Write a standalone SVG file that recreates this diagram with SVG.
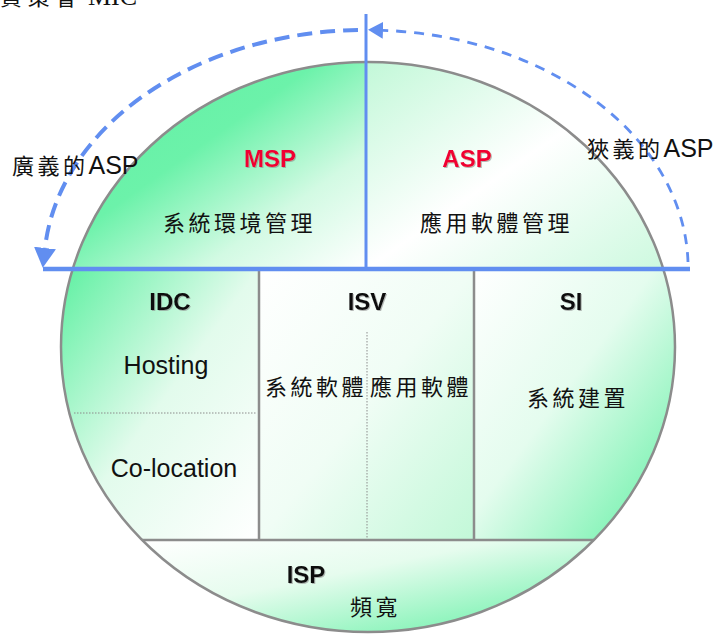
<svg xmlns="http://www.w3.org/2000/svg" width="714" height="635" viewBox="0 0 714 635">
  <style>
    .cjk { font-family: "Noto Sans CJK TC", "Noto Sans CJK SC", sans-serif; font-size: 22px; letter-spacing: 3.5px; fill: #111; }
    .lat { font-family: "Liberation Sans", Arial, sans-serif; font-size: 25px; fill: #111; }
    .head { font-family: "Liberation Sans", Arial, sans-serif; font-size: 24px; font-weight: bold; fill: #111; text-anchor: middle; filter: url(#shade); }
    .red { fill: #f00033; }
    .edge { fill: none; stroke: #8c8c8c; stroke-width: 2.5; }
    .dot { fill: none; stroke: #8c8c8c; stroke-width: 1; stroke-dasharray: 1.5 1.5; }
    .axis { fill: none; stroke: #618ef0; }
    .sweep { fill: none; stroke: #618ef0; }
  </style>
  <defs>
    <filter id="shade" x="-10%" y="-10%" width="130%" height="140%">
      <feDropShadow dx="1" dy="1" stdDeviation="0.4" flood-color="#888" flood-opacity="0.6"/>
    </filter>
    <linearGradient id="gMSP" x1="0" y1="0" x2="1" y2="1">
      <stop offset="0" stop-color="#5ff0a2"/>
      <stop offset="0.42" stop-color="#6cf2aa"/>
      <stop offset="0.72" stop-color="#d2fae3"/>
      <stop offset="1" stop-color="#ffffff"/>
    </linearGradient>
    <linearGradient id="gASP" x1="0" y1="0" x2="1" y2="1">
      <stop offset="0" stop-color="#c2f8d8"/>
      <stop offset="0.5" stop-color="#ffffff"/>
      <stop offset="1" stop-color="#cdf9df"/>
    </linearGradient>
    <linearGradient id="gIDC" x1="0" y1="0" x2="1" y2="1">
      <stop offset="0" stop-color="#5ff0a2"/>
      <stop offset="0.5" stop-color="#e2fbec"/>
      <stop offset="1" stop-color="#ffffff"/>
    </linearGradient>
    <linearGradient id="gISV" x1="0" y1="0" x2="1" y2="1">
      <stop offset="0" stop-color="#ffffff"/>
      <stop offset="0.5" stop-color="#f0fdf5"/>
      <stop offset="1" stop-color="#c2f8d8"/>
    </linearGradient>
    <linearGradient id="gSI" x1="0" y1="0" x2="1" y2="1">
      <stop offset="0" stop-color="#ffffff"/>
      <stop offset="0.45" stop-color="#e4fcee"/>
      <stop offset="1" stop-color="#5ff0a2"/>
    </linearGradient>
    <linearGradient id="gISP" x1="0" y1="0" x2="1" y2="1">
      <stop offset="0" stop-color="#ffffff"/>
      <stop offset="0.4" stop-color="#e6fcee"/>
      <stop offset="1" stop-color="#5ff0a2"/>
    </linearGradient>
    <marker id="headL" markerUnits="userSpaceOnUse" markerWidth="22" markerHeight="24" refX="0" refY="12" orient="auto">
      <path d="M0,1 L20,12 L0,23 Z" fill="#618ef0"/>
    </marker>
    <marker id="headR" markerUnits="userSpaceOnUse" markerWidth="17" markerHeight="19" refX="0" refY="9.5" orient="auto">
      <path d="M0,1 L15,9.5 L0,18 Z" fill="#618ef0"/>
    </marker>
  </defs>

  <!-- caption running off the top edge -->
  <text x="0" y="5" font-family="'Noto Sans CJK TC', sans-serif" font-size="22" letter-spacing="5.5" fill="#111">資策會<tspan font-family="'Liberation Serif', serif" font-size="26" letter-spacing="0" x="88">MIC</tspan></text>

  <!-- upper half: service layers -->
  <g id="msp">
    <path d="M366,269 L72.7,269 A307 285 0 0 1 366,62 Z" fill="url(#gMSP)"/>
    <text class="head red" x="270" y="167">MSP</text>
    <text class="cjk" x="163" y="231">系統環境管理</text>
  </g>
  <g id="asp">
    <path d="M366,269 L366,62 A307 285 0 0 1 663.3,269 Z" fill="url(#gASP)"/>
    <text class="head red" x="467" y="167">ASP</text>
    <text class="cjk" x="420" y="231">應用軟體管理</text>
  </g>

  <!-- lower half: infrastructure and vendors -->
  <g id="idc">
    <path d="M259,269 L72.7,269 A307 285 0 0 0 142.1,540 L259,540 Z" fill="url(#gIDC)"/>
    <text class="head" x="170" y="310">IDC</text>
    <text class="lat" x="166" y="374" text-anchor="middle">Hosting</text>
    <text class="lat" x="174" y="477" text-anchor="middle">Co-location</text>
    <line class="dot" x1="74" y1="413" x2="257" y2="413"/>
  </g>
  <g id="isv">
    <rect x="259" y="269" width="215" height="271" fill="url(#gISV)"/>
    <text class="head" x="367" y="310">ISV</text>
    <text class="cjk" x="265" y="395">系統軟體</text>
    <text class="cjk" x="370" y="395">應用軟體</text>
    <line class="dot" x1="367" y1="332" x2="367" y2="540"/>
  </g>
  <g id="si">
    <path d="M474,269 L663.3,269 A307 285 0 0 1 593.9,540 L474,540 Z" fill="url(#gSI)"/>
    <text class="head" x="571" y="310">SI</text>
    <text class="cjk" x="527" y="406">系統建置</text>
  </g>
  <g id="isp">
    <path d="M142.1,540 L593.9,540 A307 285 0 0 1 142.1,540 Z" fill="url(#gISP)"/>
    <text class="head" x="306" y="583">ISP</text>
    <text class="cjk" x="350" y="615">頻寬</text>
  </g>

  <!-- outline and dividers -->
  <g id="frame">
    <ellipse class="edge" cx="368" cy="347" rx="307" ry="285" stroke-width="3.2"/>
    <line class="edge" x1="259" y1="269" x2="259" y2="540"/>
    <line class="edge" x1="474" y1="269" x2="474" y2="540"/>
    <line class="edge" x1="142" y1="540" x2="594" y2="540"/>
  </g>

  <!-- connectors: axes and scope arcs -->
  <g id="connectors">
    <line class="axis" x1="43" y1="269" x2="690" y2="269" stroke-width="4.5"/>
    <line class="axis" x1="366" y1="14" x2="366" y2="269" stroke-width="3"/>
    <path class="sweep" d="M358,30 A322 238 0 0 0 45,248" stroke-width="4" stroke-dasharray="15 8" marker-end="url(#headL)"/>
    <path class="sweep" d="M688,262 A322 238 0 0 0 383,30.3" stroke-width="2.8" stroke-dasharray="10 8" marker-end="url(#headR)"/>
  </g>

  <!-- scope labels -->
  <g id="broad">
    <text class="cjk" x="12" y="174">廣義的<tspan class="lat" letter-spacing="0">ASP</tspan></text>
  </g>
  <g id="narrow">
    <text class="cjk" x="587" y="157">狹義的<tspan class="lat" letter-spacing="0">ASP</tspan></text>
  </g>
</svg>
